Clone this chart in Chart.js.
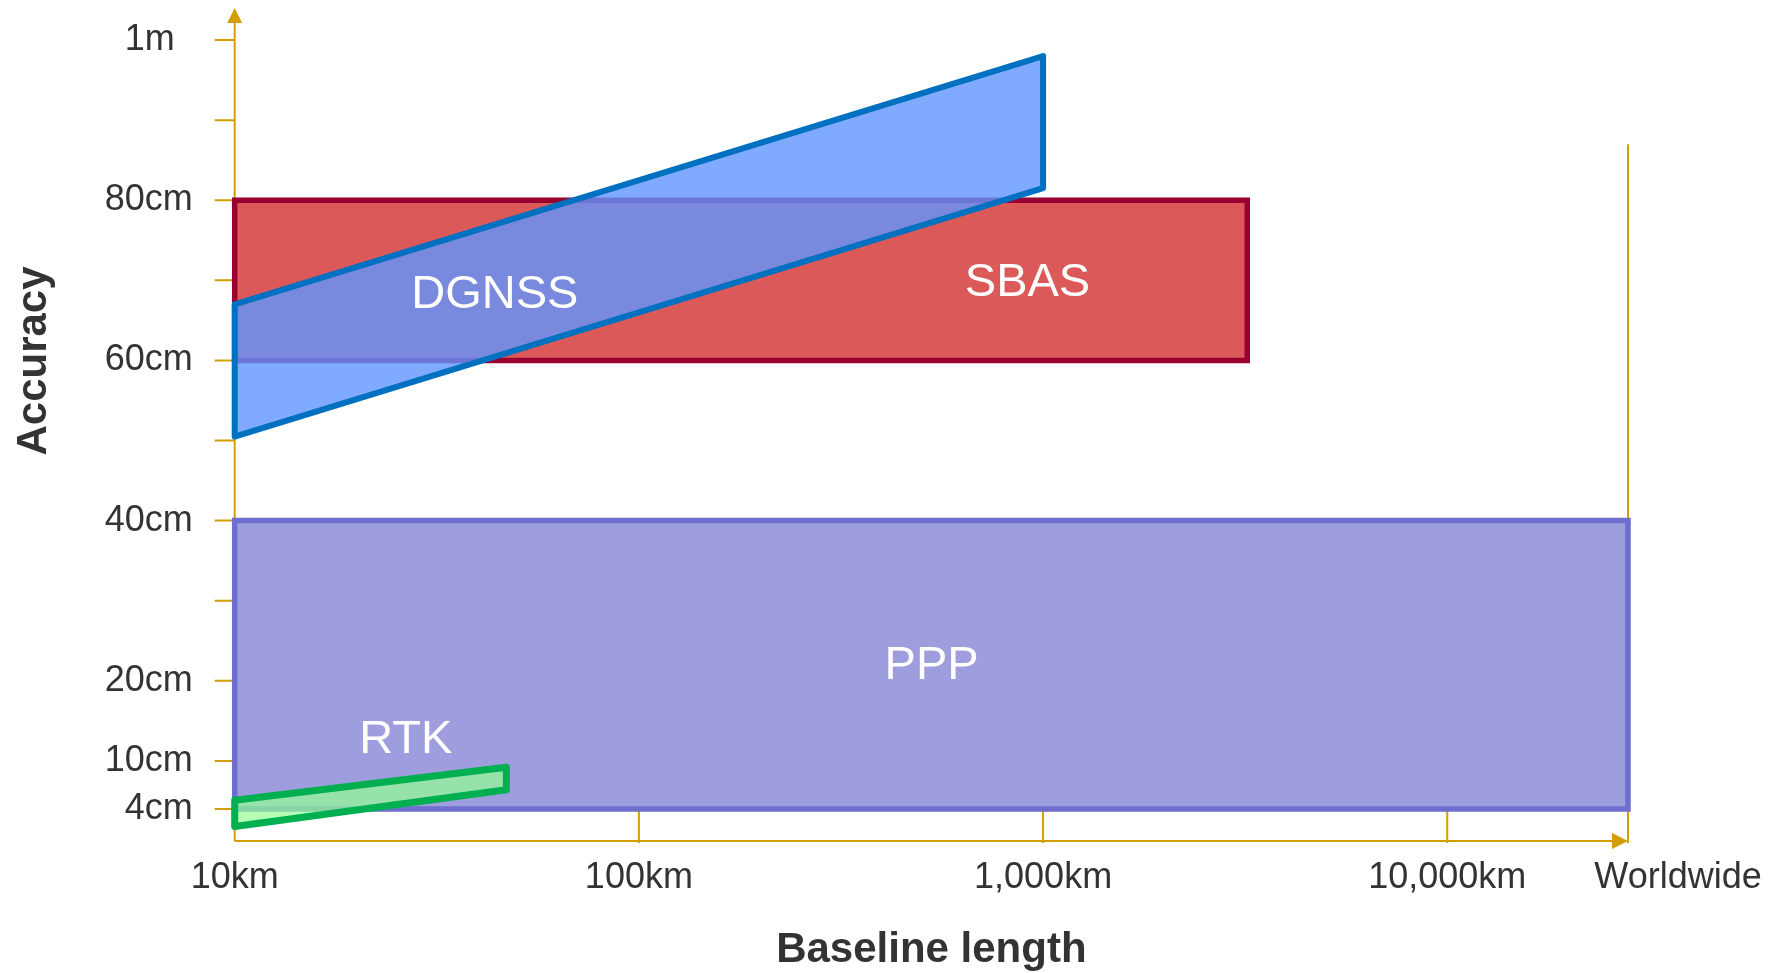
<!DOCTYPE html>
<html>
<head>
<meta charset="utf-8">
<title>GNSS accuracy vs baseline length</title>
<script src="https://cdn.jsdelivr.net/npm/chart.js@4.4.0/dist/chart.umd.min.js"></script>
<style>
	html, body { margin: 0; padding: 0; background: #fff; }
	#wrap { width: 1783px; height: 973px; }
</style>
</head>
<body>
<div id="wrap"><canvas id="chartGnss"></canvas></div>
<script>
// baseline length in km (log axis), accuracy in cm
const worldwide = 28000;
const xTicks = [10, 100, 1000, 10000, worldwide];
const xLabels = ['10km', '100km', '1,000km', '10,000km', '          Worldwide'];
const yTicks = [100, 90, 80, 70, 60, 50, 40, 30, 20, 10, 4];
const yLabels = {100: '1m\u2002', 80: '80cm', 60: '60cm', 40: '40cm', 20: '20cm', 10: '10cm', 4: '4cm'};
const worldTop = 87;

// outline of each service, corner by corner (closed)
const rtkX = [10, 47, 47, 10, 10];
const rtkY = [1.8, 6.4, 9.2, 5.1, 1.8];
const dgnssX = [10, 1000, 1000, 10, 10];
const dgnssY = [50.5, 81.5, 98, 67, 50.5];
const sbasX = [10, 3200, 3200, 10, 10];
const sbasY = [60, 60, 80, 80, 60];
const pppX = [10, worldwide, worldwide, 10, 10];
const pppY = [4, 4, 40, 40, 4];

// where the names sit
const names = ['RTK', 'DGNSS', 'SBAS', 'PPP'];
const nameX = [26.5, 44, 915, 530];
const nameY = [12.6, 68.1, 69.7, 21.8];

const gold = '#D29E00';
const txt = '#333333';
const family = '"Liberation Sans", Arial, sans-serif';

const pts = (xs, ys) => xs.map((x, i) => ({x: x, y: ys[i]}));
const shape = (label, xs, ys, fill, line, w, round) => ({
	label: label,
	data: pts(xs, ys),
	fill: 'shape',
	backgroundColor: fill,
	borderColor: line,
	borderWidth: w,
	borderJoinStyle: round ? 'round' : 'miter',
	borderCapStyle: round ? 'round' : 'square',
	pointRadius: 0,
	tension: 0,
	clip: false
});

const axesPlugin = {
	id: 'axes',
	beforeDatasetsDraw(chart) {
		const {ctx, chartArea: a, scales: {x, y}} = chart;
		ctx.save();
		ctx.strokeStyle = gold;
		ctx.fillStyle = gold;
		ctx.lineWidth = 2;
		ctx.beginPath();
		ctx.moveTo(a.left, a.bottom); ctx.lineTo(a.left, a.top + 14);
		ctx.moveTo(a.left, a.bottom); ctx.lineTo(a.right - 14, a.bottom);
		y.ticks.forEach(t => {
			const py = y.getPixelForValue(t.value);
			ctx.moveTo(a.left - 20, py); ctx.lineTo(a.left, py);
		});
		xTicks.slice(1, -1).forEach(v => {
			const px = x.getPixelForValue(v);
			ctx.moveTo(px, a.bottom + 2); ctx.lineTo(px, a.bottom - 33);
		});
		const pw = x.getPixelForValue(worldwide);
		ctx.moveTo(pw, a.bottom + 2); ctx.lineTo(pw, y.getPixelForValue(worldTop));
		ctx.stroke();
		ctx.beginPath();
		ctx.moveTo(a.left, a.top); ctx.lineTo(a.left - 7.5, a.top + 15); ctx.lineTo(a.left + 7.5, a.top + 15); ctx.closePath();
		ctx.moveTo(a.right, a.bottom); ctx.lineTo(a.right - 16, a.bottom - 8); ctx.lineTo(a.right - 16, a.bottom + 8); ctx.closePath();
		ctx.fill();
		ctx.restore();
	},
	afterDatasetsDraw(chart) {
		const {ctx, scales: {x, y}} = chart;
		ctx.save();
		ctx.fillStyle = '#ffffff';
		ctx.font = '47px ' + family;
		ctx.textAlign = 'center';
		ctx.textBaseline = 'middle';
		names.forEach((n, i) => ctx.fillText(n, x.getPixelForValue(nameX[i]), y.getPixelForValue(nameY[i])));
		ctx.restore();
	},
	afterDraw(chart) {
		const ctx = chart.ctx;
		ctx.save();
		ctx.translate(34, 361);
		ctx.rotate(-Math.PI / 2);
		ctx.fillStyle = txt;
		ctx.font = 'bold 42px ' + family;
		ctx.textAlign = 'center';
		ctx.textBaseline = 'middle';
		ctx.fillText('Accuracy', 0, 0);
		ctx.restore();
	}
};

var chart = new Chart(document.getElementById('chartGnss').getContext('2d'), {
	type: 'line',
	data: {
		datasets: [
			shape('RTK', rtkX, rtkY, 'rgba(148,255,148,0.7)', '#00B050', 7, true),
			shape('DGNSS', dgnssX, dgnssY, 'rgba(96,149,255,0.8)', '#0070C0', 6, true),
			shape('SBAS', sbasX, sbasY, '#DB5959', '#99002F', 5.5, false),
			shape('PPP', pppX, pppY, '#9E9DDD', '#6E6ED0', 5.5, false)
		]
	},
	options: {
		responsive: true,
		maintainAspectRatio: false,
		animation: false,
		events: [],
		layout: { padding: { left: 0, top: 8, right: 155, bottom: 0 } },
		plugins: { legend: { display: false }, tooltip: { enabled: false } },
		scales: {
			x: {
				type: 'logarithmic',
				min: 10,
				max: worldwide,
				border: { display: false },
				grid: { display: false, drawTicks: false },
				ticks: {
					autoSkip: false,
					maxRotation: 0,
					padding: 15,
					color: txt,
					font: { family: family, size: 36 },
					callback: v => xLabels[xTicks.indexOf(v)]
				},
				title: {
					display: true,
					text: 'Baseline length',
					color: txt,
					font: { family: family, size: 42, weight: 'bold' },
					padding: { top: 0, bottom: -2.5 }
				},
				afterBuildTicks: s => { s.ticks = xTicks.map(v => ({value: v})) },
				afterFit: s => { s.height = 132; s.paddingLeft = 0; s.paddingRight = 0 }
			},
			y: {
				type: 'linear',
				min: 0,
				max: 104,
				border: { display: false },
				grid: { display: false, drawTicks: false },
				ticks: {
					padding: 42,
					color: txt,
					font: { family: family, size: 36 },
					callback: v => yLabels[v] || ''
				},
				afterBuildTicks: s => { s.ticks = yTicks.map(v => ({value: v})) },
				afterFit: s => { s.width = 234.7; s.paddingTop = 0; s.paddingBottom = 0 }
			}
		}
	},
	plugins: [axesPlugin]
});
</script>
</body>
</html>
